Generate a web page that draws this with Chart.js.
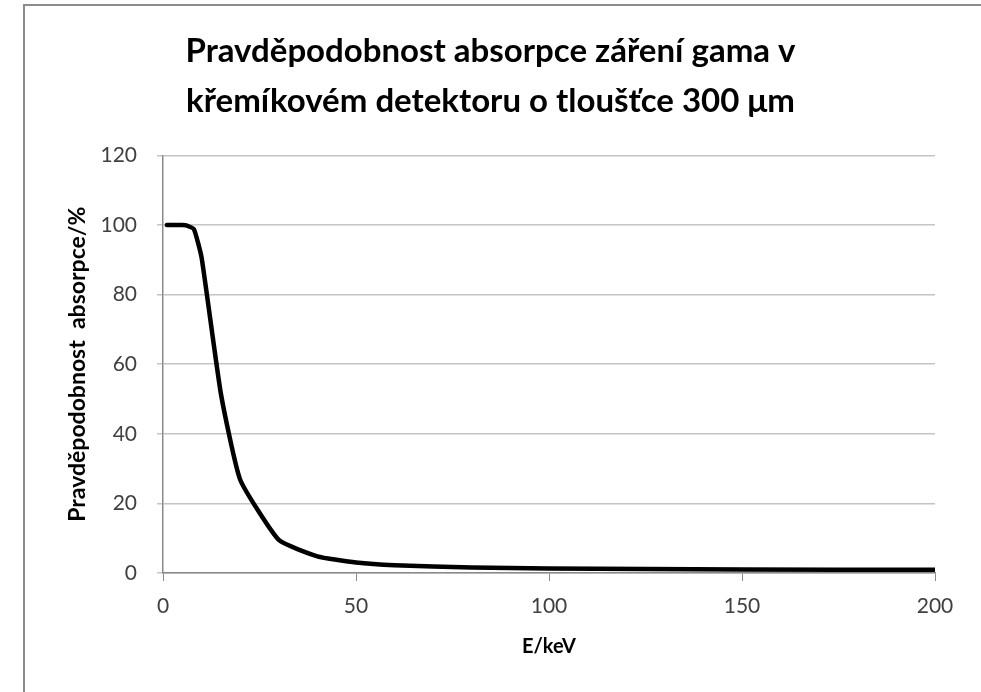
<!DOCTYPE html>
<html>
<head>
<meta charset="utf-8">
<script src="https://cdn.jsdelivr.net/npm/chart.js@4/dist/chart.umd.min.js"></script>
<style>
  html, body { margin: 0; padding: 0; background: #fff; }
  #wrap { width: 981px; height: 692px; position: relative; }
</style>
</head>
<body>
<div id="wrap"><canvas id="chAbs"></canvas></div>
<script>
// energie v keV a pravdepodobnost absorpce v %
let energies = [1, 1.5, 2, 3, 4, 5, 6, 8, 10, 15, 20, 30, 40, 50, 60, 80, 100, 150, 200];
let absorption = [100, 100, 100, 100, 100, 100, 99.9, 98.8, 90.6, 51.5, 26.8, 9.5, 4.8, 3.0, 2.2, 1.6, 1.3, 1.0, 0.9];
let xTicks = [0, 50, 100, 150, 200];
let yTicks = [0, 20, 40, 60, 80, 100, 120];

let titleLines = ['Pravděpodobnost absorpce záření gama v', 'křemíkovém detektoru o tloušťce 300 μm'];
let xTitle = 'E/keV';
let yTitle = 'Pravděpodobnost  absorpce/%';

let fontFam = 'Lato, "Open Sans", sans-serif';
let axisGrey = '#8a8a8a';
let gridGrey = '#c4c4c4';

let points = energies.map((e, i) => ({ x: e, y: absorption[i] }));

// tenky ramecek vlevo a nahore jako v puvodnim obrazku
const framePlugin = {
    id: 'frame',
    beforeDraw(chart) {
        const ctx = chart.ctx;
        ctx.save();
        ctx.fillStyle = '#ffffff';
        ctx.fillRect(0, 0, chart.width, chart.height);
        ctx.strokeStyle = '#8c8c8c';
        ctx.lineWidth = 2;
        ctx.beginPath();
        ctx.moveTo(24, chart.height);
        ctx.lineTo(24, 5);
        ctx.lineTo(chart.width, 5);
        ctx.stroke();
        ctx.restore();
    }
};

new Chart(document.getElementById('chAbs'), {
    type: 'line',
    data: {
        datasets: [{
            data: points,
            borderColor: '#000000',
            borderWidth: 4.5,
            pointRadius: 0,
            fill: false,
            tension: 0.15,
            borderJoinStyle: 'round',
            borderCapStyle: 'round'
        }]
    },
    options: {
        responsive: true,
        maintainAspectRatio: false,
        animation: false,
        layout: { padding: { left: 0, right: 0, top: 26, bottom: 0 } },
        plugins: {
            legend: { display: false },
            tooltip: { enabled: false },
            title: {
                display: true,
                text: titleLines,
                color: '#000000',
                font: { family: fontFam, size: 33, weight: 'bold', lineHeight: 1.52 },
                padding: { top: 0, bottom: 29 }
            }
        },
        scales: {
            x: {
                type: 'linear',
                min: 0,
                max: 200,
                afterBuildTicks: axis => { axis.ticks = xTicks.map(v => ({ value: v })); },
                afterFit: axis => { axis.height = 119; },
                border: { display: true, color: axisGrey, width: 1.5 },
                grid: { drawOnChartArea: false, drawTicks: true, tickLength: 8, color: axisGrey },
                ticks: {
                    color: '#404040',
                    padding: 13,
                    maxRotation: 0,
                    font: { family: fontFam, size: 21 }
                },
                title: {
                    display: true,
                    text: xTitle,
                    color: '#000000',
                    padding: { top: 0, bottom: 33 },
                    font: { family: fontFam, size: 20, weight: 'bold' }
                }
            },
            y: {
                min: 0,
                max: 120,
                afterBuildTicks: axis => { axis.ticks = yTicks.map(v => ({ value: v })); },
                afterFit: axis => { axis.width = 163; },
                border: { display: true, color: axisGrey, width: 1.5 },
                grid: { color: gridGrey, lineWidth: 1.5, drawTicks: true, tickLength: 6 },
                ticks: {
                    color: '#404040',
                    padding: 20,
                    font: { family: fontFam, size: 21 }
                },
                title: {
                    display: true,
                    text: yTitle,
                    color: '#000000',
                    padding: { top: 64, bottom: 0 },
                    font: { family: fontFam, size: 23, weight: 'bold' }
                }
            },
            // prazdna osa vpravo, jen drzi misto aby nadpis byl uprostred
            yRight: {
                position: 'right',
                display: true,
                afterFit: axis => { axis.width = 46; },
                grid: { display: false, drawTicks: false },
                border: { display: false },
                ticks: { display: false }
            }
        }
    },
    plugins: [framePlugin]
});
</script>
</body>
</html>
